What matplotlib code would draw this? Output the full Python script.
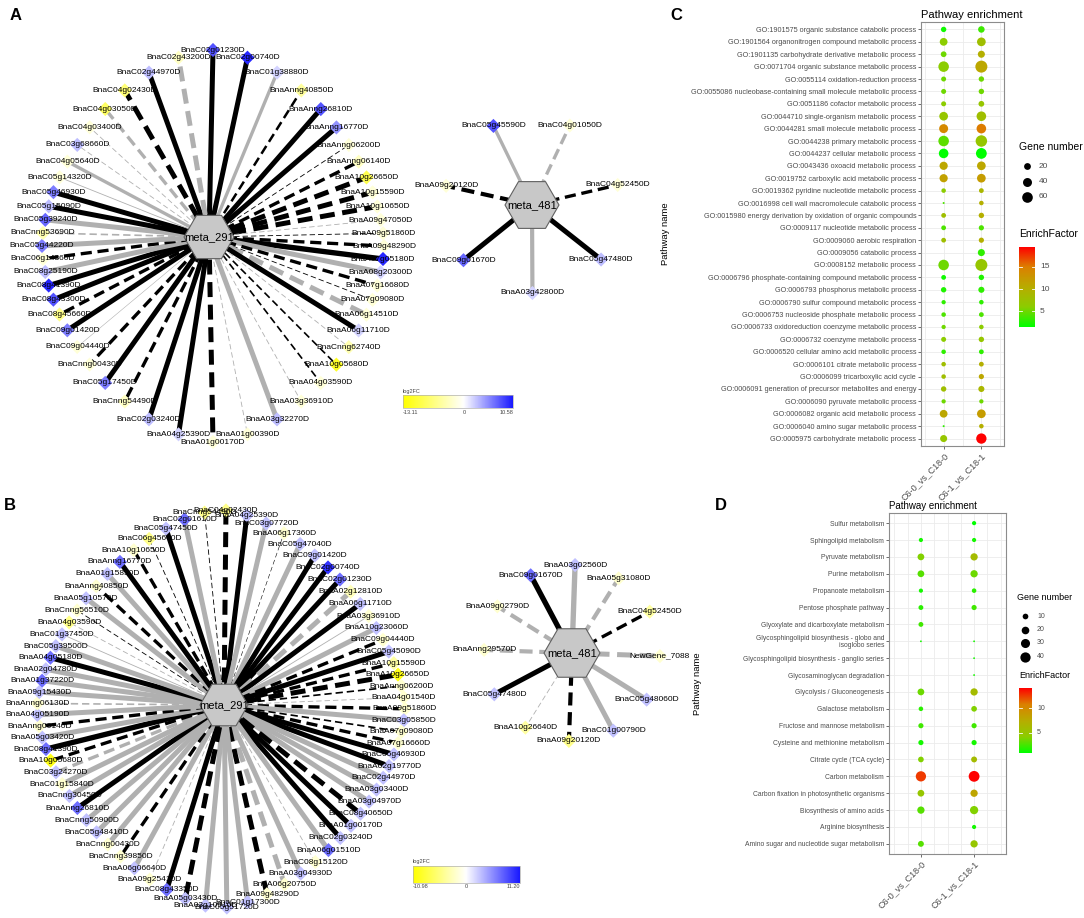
import numpy as np
import matplotlib

matplotlib.use('Agg')

import matplotlib.pyplot as plt
from matplotlib.colors import LinearSegmentedColormap, Normalize, TwoSlopeNorm
from matplotlib.patches import RegularPolygon, Rectangle

plt.rcParams['font.family'] = ['Liberation Sans', 'DejaVu Sans']
plt.rcParams['lines.scale_dashes'] = False

W, H = 1084, 918
nan = np.nan

# ---------------- network data ----------------
# panel A, hub meta_291 (clockwise from top)
a291_genes = ["BnaC02g01230D", "BnaC02g00740D", "BnaC01g38880D", "BnaAnng40850D", "BnaAnng26810D",
              "BnaAnng16770D", "BnaAnng06200D", "BnaAnng06140D", "BnaA10g26650D", "BnaA10g15590D",
              "BnaA10g10650D", "BnaA09g47050D", "BnaA09g51860D", "BnaA09g48290D", "BnaA07g05180D",
              "BnaA08g20300D", "BnaA07g16680D", "BnaA07g09080D", "BnaA06g14510D", "BnaA06g11710D",
              "BnaCnng62740D", "BnaA10g05680D", "BnaA04g03590D", "BnaA03g36910D", "BnaA03g32270D",
              "BnaA01g00390D", "BnaA01g00170D", "BnaA04g25390D", "BnaC02g03240D", "BnaCnng54490D",
              "BnaC05g17450D", "BnaCnng00430D", "BnaC09g04440D", "BnaC09g01420D", "BnaC08g45660D",
              "BnaC08g43300D", "BnaC08g41390D", "BnaC08g25190D", "BnaC06g14360D", "BnaC05g44220D",
              "BnaCnng53690D", "BnaC05g39240D", "BnaC05g15090D", "BnaC05g46930D", "BnaC05g14320D",
              "BnaC04g05640D", "BnaC03g68660D", "BnaC04g03400D", "BnaC04g03050D", "BnaC04g02430D",
              "BnaC02g44970D", "BnaC02g43200D"]
a291_fc = [8, 10, 2, -5, 8, 5, -2, -3, -9, -2, -2, -2, -2, -2, 10, 2, -2, -2, -2, 2, -4, -11, -2, -2, 3,
           -2, -2, 2, 3, -3, 6, -2, -2, 6, -6, 8, 10, 3, -2, 6, -4, 7, 3, 6, -2, -2, 3, -2, -8, -7, 3, -3]
a291_r = [.95, .95, .85, -.8, .95, .95, -.7, -.85, -.95, -.95, -.95, -.7, -.7, -.85, .97, .95, -.85, -.7,
          -.95, .95, -.7, -.75, -.75, -.7, .95, -.7, -.95, .95, .95, -.85, .95, -.85, .65, .95, -.85, .95,
          .95, .95, -.85, .95, -.75, .95, .95, .95, .7, .85, -.7, -.7, -.85, -.95, .95, -.95]
a291_p = [.001, .001, .03, .001, .001, .001, .001, .001, .001, .001, .001, .03, .001, .001, .001, .03,
          .001, .001, .03, .001, .03, .001, .001, .03, .03, .03, .001, .001, .001, .001, .001, .001, .03,
          .001, .001, .001, .001, .03, .001, .03, .03, .03, .001, .001, .03, .03, .03, .03, .03, .001,
          .001, .03]

# panel A, hub meta_481
a481_genes = ["BnaC05g45590D", "BnaC04g01050D", "BnaC04g52450D", "BnaC05g47480D", "BnaA03g42800D",
              "BnaC09g01670D", "BnaA09g20120D"]
a481_fc = [8, -2, -2, 3, 2, 7, -2]
a481_r = [.85, -.85, -.85, .95, .9, .95, -.9]
a481_p = [.03, .03, .001, .001, .03, .001, .001]

# panel B, hub meta_291
b291_genes = ["BnaA04g25390D", "BnaC03g07720D", "BnaA06g17360D", "BnaC05g47040D", "BnaC09g01420D",
              "BnaC02g00740D", "BnaC02g01230D", "BnaA02g12810D", "BnaA06g11710D", "BnaA03g36910D",
              "BnaA10g23060D", "BnaC09g04440D", "BnaC05g45090D", "BnaA10g15590D", "BnaA10g26650D",
              "BnaAnng06200D", "BnaA04g01540D", "BnaA09g51860D", "BnaC03g05850D", "BnaA07g09080D",
              "BnaA07g16660D", "BnaC06g46930D", "BnaA02g19770D", "BnaC02g44970D", "BnaA03g03400D",
              "BnaA03g04970D", "BnaC08g40650D", "BnaA01g00170D", "BnaC02g03240D", "BnaA06g01510D",
              "BnaC08g15120D", "BnaA03g04930D", "BnaA06g20750D", "BnaA09g48290D", "BnaC01g17300D",
              "BnaC05g51720D", "BnaA03g10910D", "BnaA05g03430D", "BnaC08g43350D", "BnaA09g25410D",
              "BnaA06g06640D", "BnaCnng39850D", "BnaCnng00430D", "BnaC05g48410D", "BnaCnng50900D",
              "BnaAnng26810D", "BnaCnng30450D", "BnaC01g15840D", "BnaC03g24270D", "BnaA10g05680D",
              "BnaC08g41390D", "BnaA05g03420D", "BnaAnng00140D", "BnaA04g05190D", "BnaAnng06130D",
              "BnaA09g15430D", "BnaA01g37220D", "BnaA02g04780D", "BnaA04g05180D", "BnaC05g39500D",
              "BnaC01g37450D", "BnaA04g03590D", "BnaCnng56510D", "BnaA05g10570D", "BnaAnng40850D",
              "BnaA01g15830D", "BnaAnng16770D", "BnaA10g10650D", "BnaC06g45660D", "BnaC05g47450D",
              "BnaC02g01610D", "BnaCnng54490D", "BnaC04g02430D"]
b291_fc = [3, 3, -2, 3, 3, 10, 7, -3, 3, -2, 3, -2, 3, -4, -10, -2, -2, -2, 3, -2, -2, 3, 3, 3, 3, 3, 3,
           3, 3, 7, -2, 3, -2, -2, 3, 3, 3, 3, 7, -2, 3, -2, -2, 3, 3, 7, 3, -2, 3, -10, 7, 3, -2, 3, -2,
           3, 7, 3, 7, 3, 3, -5, -2, 3, -2, 3, 7, -2, -5, 3, 7, -5, -5]
b291_r = [.95, .95, -.65, .95, .95, .95, .95, -.95, .95, .7, .95, -.85, .95, -.85, -.95, -.75, -.7, -.85,
          .95, -.75, -.85, .95, .95, .95, .95, .95, -.95, .95, .95, .95, -.7, .95, -.95, -.95, .95, .95,
          .95, -.95, .95, -.7, .95, -.85, .95, .95, .95, .95, .95, .95, -.85, -.85, .97, .95, -.85, .95,
          -.75, .95, .95, .95, .95, .95, .7, -.7, -.7, .95, -.85, .95, .95, -.85, -.7, .95, .95, -.7, -.95]
b291_p = [.001, .03, .001, .03, .001, .001, .001, .03, .001, .03, .03, .001, .001, .001, .001, .001,
          .03, .001, .03, .001, .001, .001, .001, .03, .03, .03, .001, .001, .001, .03, .03, .03, .03,
          .001, .03, .03, .03, .001, .001, .03, .03, .001, .03, .03, .03, .001, .03, .03, .03, .001,
          .001, .03, .001, .03, .03, .03, .03, .03, .001, .03, .03, .03, .001, .03, .001, .03, .001,
          .001, .001, .001, .03, .001, .001]

# panel B, hub meta_481
b481_genes = ["BnaC09g01670D", "BnaA03g02560D", "BnaA05g31080D", "BnaC04g52450D", "NewGene_7088",
              "BnaC05g48060D", "BnaC01g00790D", "BnaA09g20120D", "BnaA10g26640D", "BnaC05g47480D",
              "BnaAnng29570D", "BnaA09g02790D"]
b481_fc = [7, 3, -2, -4, -2, 3, 3, -5, -4, 3, -2, -2]
b481_r = [.97, .97, -.9, -.85, -.95, .95, .95, -.9, -.7, .95, -.9, -.9]
b481_p = [.001, .03, .03, .001, .03, .03, .03, .001, .03, .001, .03, .03]

a_fc_range = [-13.11, 10.58]
b_fc_range = [-10.98, 11.20]

# ---------------- enrichment data ----------------
groups = ["C6-0_vs_C18-0", "C6-1_vs_C18-1"]

c_paths = ["GO:1901575 organic substance catabolic process",
           "GO:1901564 organonitrogen compound metabolic process",
           "GO:1901135 carbohydrate derivative metabolic process",
           "GO:0071704 organic substance metabolic process",
           "GO:0055114 oxidation-reduction process",
           "GO:0055086 nucleobase-containing small molecule metabolic process",
           "GO:0051186 cofactor metabolic process",
           "GO:0044710 single-organism metabolic process",
           "GO:0044281 small molecule metabolic process",
           "GO:0044238 primary metabolic process",
           "GO:0044237 cellular metabolic process",
           "GO:0043436 oxoacid metabolic process",
           "GO:0019752 carboxylic acid metabolic process",
           "GO:0019362 pyridine nucleotide metabolic process",
           "GO:0016998 cell wall macromolecule catabolic process",
           "GO:0015980 energy derivation by oxidation of organic compounds",
           "GO:0009117 nucleotide metabolic process",
           "GO:0009060 aerobic respiration",
           "GO:0009056 catabolic process",
           "GO:0008152 metabolic process",
           "GO:0006796 phosphate-containing compound metabolic process",
           "GO:0006793 phosphorus metabolic process",
           "GO:0006790 sulfur compound metabolic process",
           "GO:0006753 nucleoside phosphate metabolic process",
           "GO:0006733 oxidoreduction coenzyme metabolic process",
           "GO:0006732 coenzyme metabolic process",
           "GO:0006520 cellular amino acid metabolic process",
           "GO:0006101 citrate metabolic process",
           "GO:0006099 tricarboxylic acid cycle",
           "GO:0006091 generation of precursor metabolites and energy",
           "GO:0006090 pyruvate metabolic process",
           "GO:0006082 organic acid metabolic process",
           "GO:0006040 amino sugar metabolic process",
           "GO:0005975 carbohydrate metabolic process"]
c_n1 = [11, 28, 13, 59, 9, 9, 9, 37, 40, 59, 47, 32, 32, 7, 2, 8, 8, 8, nan, 59, 8, 11, 6, 7, 6, 9, 7,
        7, 7, 11, 6, 28, 2, 22]
c_n2 = [18, 37, 22, 80, 11, 11, 13, 47, 47, 72, 62, 37, 37, 8, 7, 11, 10, 10, 22, 80, 11, 15, 7, 8, 7,
        11, 8, 8, 10, 15, 6, 37, 7, 56]
c_ef1 = [2, 6, 5, 6, 5, 5, 6, 7, 14, 4.5, 1.5, 11, 11.5, 6, 4, 8, 4, 8, nan, 5, 2, 2.5, 3, 4, 5, 6, 3,
         8, 8, 8, 5, 11, 3, 7]
c_ef2 = [3.5, 8, 10, 11, 5, 5, 7, 8, 15, 7, 1.5, 11, 12, 9, 10, 10, 4, 10, 3, 7, 2.5, 3, 3, 4, 6, 7, 3,
         10, 11, 9, 5, 12, 10, 19.4]
c_size_breaks = [20, 40, 60]
c_ef_ticks = [5, 10, 15]

d_paths = ["Sulfur metabolism", "Sphingolipid metabolism", "Pyruvate metabolism", "Purine metabolism",
           "Propanoate metabolism", "Pentose phosphate pathway",
           "Glyoxylate and dicarboxylate metabolism",
           "Glycosphingolipid biosynthesis - globo and\nisoglobo series",
           "Glycosphingolipid biosynthesis - ganglio series", "Glycosaminoglycan degradation",
           "Glycolysis / Gluconeogenesis", "Galactose metabolism", "Fructose and mannose metabolism",
           "Cysteine and methionine metabolism", "Citrate cycle (TCA cycle)", "Carbon metabolism",
           "Carbon fixation in photosynthetic organisms", "Biosynthesis of amino acids",
           "Arginine biosynthesis", "Amino sugar and nucleotide sugar metabolism"]
d_n1 = [nan, 5, 15, 15, 5, 7, 7, 2, nan, nan, 15, 6, 8, 8, 10, 40, 15, 18, nan, 11]
d_n2 = [5, 5, 18, 18, 6, 8, nan, 2, 2, 2, 18, 10, 8, 8, 11, 45, 18, 24, 5, 18]
d_ef1 = [nan, 1.5, 4, 3, 1.5, 2, 2.5, 1.5, nan, nan, 3.5, 2, 2.5, 1.5, 4, 12.5, 5, 3, nan, 3]
d_ef2 = [1, 1.5, 6, 3.5, 2, 2.5, nan, 1.5, 1.5, 1.5, 6, 4, 2.5, 1.5, 6, 14, 8, 4, 1.5, 5]
d_size_breaks = [10, 20, 30, 40]
d_ef_ticks = [5, 10]

# ---------------- colours ----------------
fc_cmap = LinearSegmentedColormap.from_list('fc', ['#ffff00', '#ffffff', '#1a1aff'])
ef_cmap = LinearSegmentedColormap.from_list(
    'ef', [(0, '#00ff00'), (0.25, '#8ccd00'), (0.5, '#b8ac00'), (0.75, '#dc8000'), (1, '#ff0000')])

fig = plt.figure(figsize=(W / 100, H / 100), dpi=100)
ax = fig.add_axes([0, 0, 1, 1])
ax.axis('off')


def edge_style(r, p):
    lw = max(0.4, 0.6 + (abs(r) - 0.7) * 12)
    col = 'black' if p < 0.01 else '#b0b0b0'
    ls = '-' if r > 0 else (0, (2.5 + 2.3 * lw, 1.5 + 1.1 * lw))
    return col, lw, ls


def ring_xy(n, cx, cy, rx, ry, expo, start, spread):
    # nodes spaced evenly along a superellipse, a bit wider at top and bottom
    t = np.linspace(0, 2 * np.pi, 4001)
    st, ct = np.sin(t), np.cos(t)
    x = cx + rx * np.sign(st) * np.abs(st) ** (2 / expo)
    y = cy - ry * np.sign(ct) * np.abs(ct) ** (2 / expo)
    dl = np.hypot(np.diff(x), np.diff(y)) / (1 + spread * ct[:-1] ** 2)
    s = np.concatenate([[0], np.cumsum(dl)])
    s0 = np.interp(np.deg2rad(start) % (2 * np.pi), t, s)
    target = (s0 + np.arange(n) * s[-1] / n) % s[-1]
    return np.interp(target, s, x), np.interp(target, s, y)


def draw_net(hub, hx, hy, R, genes, fc, r, p, ring, norm):
    xs, ys = ring_xy(len(genes), *ring)
    for x, y, ri, pi in zip(xs, ys, r, p):
        col, lw, ls = edge_style(ri, pi)
        ax.plot([hx, x], [hy, y], color=col, lw=lw, ls=ls, solid_capstyle='butt',
                dash_capstyle='butt', zorder=1)
    ax.add_patch(RegularPolygon((hx, hy), 6, radius=R, orientation=np.pi / 6, fc='#c8c8c8',
                                ec='#606060', lw=0.8, zorder=3))
    ax.text(hx, hy, hub, fontsize=8, ha='center', va='center', zorder=6)
    ax.scatter(xs, ys, s=52, marker='D', c=fc_cmap(norm(np.array(fc, float))), linewidths=0, zorder=4)
    for x, y, g in zip(xs, ys, genes):
        ax.text(x, y, g, fontsize=6, ha='center', va='center', zorder=5)


def fc_bar(x0, y0, w, h, vmin, vmax, norm):
    vals = np.linspace(vmin, vmax, 256)
    ax.imshow(fc_cmap(norm(vals))[None, :, :], extent=[x0, x0 + w, y0 + h, y0], aspect='auto',
              zorder=2, interpolation='bilinear')
    ax.add_patch(Rectangle((x0, y0), w, h, fill=False, ec='#b0b0b0', lw=0.5, zorder=3))
    ax.text(x0, y0 - 1.5, 'log2FC', fontsize=4, ha='left', va='bottom', color='#444444')
    zero = x0 + w * (0 - vmin) / (vmax - vmin)
    ax.text(x0, y0 + h + 1.5, f'{vmin:.2f}', fontsize=4, ha='left', va='top', color='#444444')
    ax.text(zero, y0 + h + 1.5, '0', fontsize=4, ha='center', va='top', color='#444444')
    ax.text(x0 + w, y0 + h + 1.5, f'{vmax:.2f}', fontsize=4, ha='right', va='top', color='#444444')


norm_a = TwoSlopeNorm(vcenter=0, vmin=a_fc_range[0], vmax=a_fc_range[1])
norm_b = TwoSlopeNorm(vcenter=0, vmin=b_fc_range[0], vmax=b_fc_range[1])

draw_net('meta_291', 209, 237, 25, a291_genes, a291_fc, a291_r, a291_p,
         (213, 246, 171, 196, 1.7, 0, 1.8), norm_a)
draw_net('meta_481', 532, 205, 27, a481_genes, a481_fc, a481_r, a481_p,
         (532, 205, 88, 88, 2, -26, 0), norm_a)
draw_net('meta_291', 224, 705, 24, b291_genes, b291_fc, b291_r, b291_p,
         (221, 709, 184, 199, 1.6, 12, 0.9), norm_b)
draw_net('meta_481', 572, 653, 28, b481_genes, b481_fc, b481_r, b481_p,
         (572, 653, 88, 88, 2, -28, 0), norm_b)

fc_bar(403, 395, 110, 13, a_fc_range[0], a_fc_range[1], norm_a)
fc_bar(413, 866, 107, 17, b_fc_range[0], b_fc_range[1], norm_b)

for lab, x, y in [('A', 16, 15), ('B', 10, 505), ('C', 676, 15), ('D', 721, 505)]:
    ax.text(x, y, lab, fontsize=12, fontweight='bold', ha='center', va='center')


# ---------------- dot plots ----------------
def dot_diam(n, nmin, nmax, k):
    n = np.asarray(n, float)
    return k * (1 + 5 * np.sqrt(np.clip((n - nmin) / (nmax - nmin), 0, 1)))


def dot_area(n, nmin, nmax, k):
    return (dot_diam(n, nmin, nmax, k) * 0.72) ** 2


def dot_panel(px, paths, n_cols, ef_cols, k, xstep, ylab_fs, title_fs, ylab_x):
    x0, y0, x1, y1 = px
    axp = fig.add_axes([x0 / W, 1 - y1 / H, (x1 - x0) / W, (y1 - y0) / H])
    m = len(paths)
    yy = np.arange(m)
    alln = np.concatenate([np.array(c, float) for c in n_cols])
    alle = np.concatenate([np.array(c, float) for c in ef_cols])
    nmin, nmax = np.nanmin(alln), np.nanmax(alln)
    elo, ehi = np.nanmin(alle), np.nanmax(alle)
    enorm = Normalize(elo, ehi)
    for v in yy:
        axp.axhline(v, color='#ebebeb', lw=0.6, zorder=0)
    for v in np.arange(0.5, 2.51, xstep):
        axp.axvline(v, color='#ebebeb', lw=0.6, zorder=0)
    for i, (nn, ee) in enumerate(zip(n_cols, ef_cols)):
        nn = np.array(nn, float)
        ee = np.array(ee, float)
        ok = ~np.isnan(nn)
        axp.scatter(np.full(ok.sum(), i + 1), yy[ok], s=dot_area(nn[ok], nmin, nmax, k),
                    c=ef_cmap(enorm(ee[ok])), linewidths=0, zorder=3)
    axp.set_xlim(0.4, 2.6)
    axp.set_ylim(m - 0.4, -0.6)
    axp.set_yticks(yy)
    axp.set_yticklabels(paths, fontsize=ylab_fs, color='#4d4d4d', linespacing=0.95)
    axp.set_xticks([1, 2])
    axp.set_xticklabels(groups, fontsize=6.5, color='#4d4d4d', rotation=45, ha='right', va='top',
                        rotation_mode='anchor')
    axp.tick_params(length=2, width=0.5, color='#333333', pad=1.5)
    for s in axp.spines.values():
        s.set_color('#8c8c8c')
        s.set_linewidth(0.8)
    axp.set_title('Pathway enrichment', loc='left', fontsize=title_fs, pad=3)
    fig.text(ylab_x / W, 1 - (y0 + y1) / 2 / H, 'Pathway name', rotation=90, ha='center', va='center',
             fontsize=6.8)
    return nmin, nmax, elo, ehi


def legends(nmin, nmax, k, breaks, lx, ly, step, ticks, elo, ehi, cb, title_fs, lab_fs):
    ax.text(lx, ly, 'Gene number', fontsize=title_fs, ha='left', va='center')
    for i, b in enumerate(breaks):
        y = ly + 19 + i * step
        ax.scatter(lx + 8, y, s=dot_area(b, nmin, nmax, k), c='black', linewidths=0, zorder=3)
        ax.text(lx + 20, y, str(b), fontsize=lab_fs, ha='left', va='center', color='#4d4d4d')
    bx0, by0, bx1, by1 = cb
    ax.text(bx0, by0 - 13, 'EnrichFactor', fontsize=title_fs, ha='left', va='center')
    vals = np.linspace(ehi, elo, 256)
    ax.imshow(ef_cmap(Normalize(elo, ehi)(vals))[:, None, :], extent=[bx0, bx1, by1, by0],
              aspect='auto', zorder=2, interpolation='bilinear')
    for t in ticks:
        y = by1 - (t - elo) / (ehi - elo) * (by1 - by0)
        ax.plot([bx0, bx0 + 3], [y, y], color='white', lw=0.6, zorder=3)
        ax.plot([bx1 - 3, bx1], [y, y], color='white', lw=0.6, zorder=3)
        ax.text(bx1 + 5, y, str(t), fontsize=lab_fs, ha='left', va='center', color='#4d4d4d')


c_lim = dot_panel((921, 22, 1004, 446), c_paths, [c_n1, c_n2], [c_ef1, c_ef2], 2.0, 0.5, 5.2, 8, 666)
d_lim = dot_panel((889, 513, 1006, 854), d_paths, [d_n1, d_n2], [d_ef1, d_ef2], 1.8, 0.25, 4.9, 7, 698)

legends(c_lim[0], c_lim[1], 2.0, c_size_breaks, 1019, 147, 15.5, c_ef_ticks, c_lim[2], c_lim[3],
        (1019, 247, 1035, 327), 7.5, 6)
legends(d_lim[0], d_lim[1], 1.8, d_size_breaks, 1017, 597, 13.5, d_ef_ticks, d_lim[2], d_lim[3],
        (1019, 688, 1032, 753), 6.5, 5)

ax.set_xlim(0, W)
ax.set_ylim(H, 0)

fig.savefig('out.png', dpi=100, facecolor='white')
